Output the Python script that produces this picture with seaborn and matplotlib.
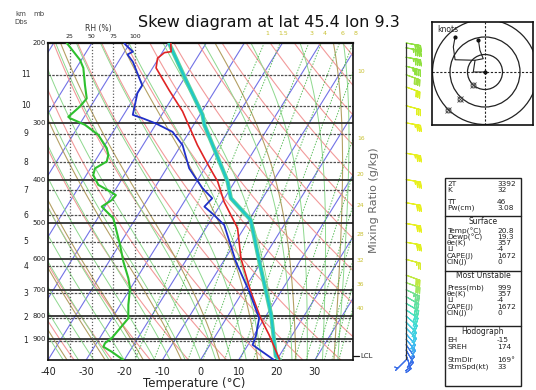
import numpy as np
import pandas as pd
import matplotlib
matplotlib.use("Agg")
import matplotlib.pyplot as plt
import seaborn as sns
from matplotlib.patches import Rectangle, Circle
from matplotlib.lines import Line2D
from matplotlib.transforms import blended_transform_factory
from matplotlib.ticker import NullLocator

sns.set_style("white")
plt.rcParams['font.family'] = ['DejaVu Sans']

# ---------------- data ----------------
temp_p = [1000, 880, 809, 707, 597, 512, 448, 404, 369, 336, 283, 254, 227, 216, 210, 209, 200]
temp_t = [20.8, 13.9, 9.0, 2.1, -5.9, -11.7, -19.5, -24.5, -30.1, -35.7, -45.1, -52.1, -59.1, -60.3, -59.4, -57.8, -59.3]

dew_p = [1000, 926, 888, 809, 707, 607, 504, 479, 459, 440, 418, 378, 336, 314, 301, 293, 288, 258, 248, 220, 212, 209, 202, 200]
dew_t = [19.3, 11.2, 10.7, 8.6, 1.7, -6.7, -15.7, -20.0, -23.9, -23.2, -27.4, -34.1, -39.6, -44.4, -50.1, -54.5, -57.6, -59.9, -59.9, -66.2, -68.8, -67.8, -70.8, -71.5]

parcel_p = [1000, 980, 795, 602, 491, 440, 404, 303, 288, 241, 201]
parcel_t = [20.8, 19.1, 11.2, -0.9, -9.6, -18.3, -21.9, -37.2, -39.3, -49.4, -59.5]

rh_p = [200, 202, 218, 227, 248, 265, 276, 291, 293, 303, 319, 341, 353, 365, 378, 391, 411, 425, 433,
        444, 459, 487, 504, 558, 607, 660, 695, 756, 809, 851, 895, 918, 935, 959, 1000]
rh_v = [21.5, 23.3, 36.8, 40.6, 42.5, 44.5, 36.8, 23.3, 25.3, 42.5, 57.8, 67.5, 69.3, 67.5, 54.0, 52.0, 57.8, 71.3, 78.0,
        73.2, 61.7, 75.0, 77.0, 82.8, 86.6, 92.3, 94.3, 92.3, 92.3, 82.8, 73.2, 65.5, 63.6, 73.2, 86.6]
rh_ticks = [25, 50, 75, 100]

mand_levels = [300, 400, 500, 600, 700, 800, 900]
mand_labels = ["300", "400", "500", "600", "700", "800", "900"]
km_p = [908, 807, 712, 622, 549, 480, 422, 366, 317, 275, 235]
km_labels = ["1", "2", "3", "4", "5", "6", "7", "8", "9", "10", "11"]

x_ticks = [-40, -30, -20, -10, 0, 10, 20, 30]
isotherms = list(range(-120, 50, 10))
dry_thetas = list(range(240, 500, 10))
moist_thetaw = list(range(-40, 44, 4))
olive_thetaw = [-35, -25, -15, -5, 5, 15, 25, 35]
mix_ratios = [1, 1.5, 3, 4, 6, 8, 10, 16, 20, 24, 28, 32, 36, 40]
mix_top_labels = [1, 1.5, 3, 4, 6, 8]
mix_side_labels = [10, 16, 20, 24, 28, 32, 36, 40]
lcl_p = 980

wind_p = [1000, 975, 950, 925, 900, 875, 850, 825, 800, 775, 750, 725, 700, 675, 650, 600, 550, 500,
          450, 400, 350, 300, 275, 250, 235, 225, 215, 205, 200]
wind_dir = [225, 160, 150, 145, 140, 140, 135, 135, 130, 125, 120, 120, 115, 110, 110, 105, 100, 100,
            100, 100, 100, 100, 105, 110, 110, 105, 100, 100, 100]
wind_spd = [5, 25, 20, 15, 15, 20, 20, 25, 25, 30, 30, 30, 35, 30, 30, 25, 30, 30,
            30, 35, 35, 35, 30, 30, 40, 45, 45, 45, 40]
wind_col = ['#3a6ee8', '#3a6ee8', '#3a6ee8', '#3a7ee8', '#40a8f0', '#40b8f0', '#40c8e8', '#40d0e0', '#40d8d8',
            '#48e0c8', '#50e0b0', '#60e0a0', '#70e090', '#a0e860', '#c0e840', '#d8ec30', '#e0f020', '#e8f020',
            '#e8f020', '#e8f020', '#e8f020', '#e8f020', '#e0f020', '#d8f020', '#a0e040', '#90e040', '#90e040',
            '#90e040', '#90e040']

hodo_u1 = [0.0, -0.67, -0.57, -0.10, -0.29, -0.38]
hodo_v1 = [0.0, 0.0, 0.67, 0.76, 1.24, 1.85]
hodo_u2 = [-0.57, -1.71, -1.81, -1.71]
hodo_v2 = [0.67, 0.70, 1.43, 2.00]
storm_u = [-0.67, -1.43, -2.10]
storm_v = [-0.76, -1.52, -2.19]
hodo_rings = [1, 2, 3]

table_rows = [
    ("2T", "3392", 184), ("K", "32", 190), ("TT", "46", 202), ("Pw(cm)", "3.08", 208),
    ("Temp(°C)", "20.8", 231), ("Dewp(°C)", "19.3", 237), ("θe(K)", "357", 243), ("LI", "-4", 249),
    ("CAPE(J)", "1672", 256), ("CIN(J)", "0", 262),
    ("Press(mb)", "999", 288), ("θe(K)", "357", 294), ("LI", "-4", 300), ("CAPE(J)", "1672", 307),
    ("CIN(J)", "0", 313),
    ("EH", "-15", 340), ("SREH", "174", 347), ("StmDir", "169°", 360), ("StmSpd(kt)", "33", 367),
]
table_heads = [("Surface", 221), ("Most Unstable", 276), ("Hodograph", 331)]

# ---------------- helpers ----------------
SKEW = 32.0
W, H = 536.0, 390.0


def sx(t, p):
    return np.asarray(t, float) + SKEW * np.log(1000.0 / np.asarray(p, float))


def rh_x(r):
    return -40.0 + np.asarray(r, float) * 0.2283


def moist_adiabat(t0, pres):
    Rd, cp, L, eps = 287.04, 1005.7, 2.501e6, 0.622

    def f(T, p):
        es = 6.112 * np.exp(17.67 * (T - 273.15) / (T - 29.65))
        rs = eps * es / (p - es)
        return (Rd * T + L * rs) / p / (cp + L * L * rs * eps / (Rd * T * T))

    T = t0 + 273.15
    out = [T]
    for i in range(1, len(pres)):
        p = pres[i - 1]
        dp = pres[i] - p
        k1 = f(T, p)
        k2 = f(T + 0.5 * dp * k1, p + 0.5 * dp)
        T = T + dp * k2
        out.append(T)
    return np.array(out) - 273.15


def mix_td(w, p):
    e = w * p / (622.0 + w)
    a = np.log(e / 6.112)
    return 243.5 * a / (17.67 - a)


def fx(x):
    return x / W


def fy(y):
    return 1.0 - y / H


# ---------------- figure ----------------
fig = plt.figure(figsize=(5.36, 3.90), dpi=100)
ax = fig.add_axes([fx(48), fy(360), 305 / W, 317 / H])
ax.set_yscale('log')
ax.set_ylim(1000, 200)
ax.set_xlim(-40, 40)
ax.yaxis.set_major_locator(NullLocator())
ax.yaxis.set_minor_locator(NullLocator())

pg = np.geomspace(1000, 200, 120)
for t in isotherms:
    ax.plot(sx(t, pg), pg, color='#7272e6', lw=0.8, zorder=1)
for th in dry_thetas:
    ax.plot(sx(th * (pg / 1000.0) ** 0.2857 - 273.15, pg), pg, color='#f29a9a', lw=0.8, zorder=1)
for tw in moist_thetaw:
    ax.plot(sx(moist_adiabat(tw, pg), pg), pg, color='#8ed88e', lw=0.7, zorder=1)
for tw in olive_thetaw:
    ax.plot(sx(moist_adiabat(tw, pg), pg), pg, color='#b4a064', lw=0.8, zorder=1)
for w in mix_ratios:
    ax.plot(sx(mix_td(w, pg), pg), pg, color='#44b444', lw=0.7, ls=(0, (1.5, 1.5)), alpha=0.85, zorder=1)

for p in mand_levels:
    ax.axhline(p, color='#303030', lw=1.3, zorder=2)
for p in km_p:
    ax.axhline(p, color='#505050', lw=0.9, ls=(0, (2, 1)), zorder=2)
for r in rh_ticks:
    ax.axvline(rh_x(r), color='#606060', lw=0.9, ls=(0, (1, 1.5)), zorder=2)

# profiles
df_rh = pd.DataFrame({'x': rh_x(rh_v), 'p': rh_p})
sns.lineplot(data=df_rh, x='x', y='p', sort=False, estimator=None, color='#2ec02e', lw=1.5, ax=ax, zorder=4)
df_par = pd.DataFrame({'x': sx(parcel_t, parcel_p), 'p': parcel_p})
sns.lineplot(data=df_par, x='x', y='p', sort=False, estimator=None, color='#5fd39a', lw=3.0, ax=ax, zorder=4)
sns.lineplot(data=df_par, x='x', y='p', sort=False, estimator=None, color='#1ec8c8', lw=1.6, ax=ax, zorder=4)
df_t = pd.DataFrame({'x': sx(temp_t, temp_p), 'p': temp_p})
sns.lineplot(data=df_t, x='x', y='p', sort=False, estimator=None, color='#e02424', lw=1.2, ax=ax, zorder=5)
df_d = pd.DataFrame({'x': sx(dew_t, dew_p), 'p': dew_p})
sns.lineplot(data=df_d, x='x', y='p', sort=False, estimator=None, color='#2030c8', lw=1.3, ax=ax, zorder=5)

ax.set_xlabel('')
ax.set_ylabel('')
ax.set_xticks(x_ticks)
ax.set_xticklabels([str(v) for v in x_ticks], fontsize=7, color='#222')
ax.tick_params(axis='x', length=2, pad=3)
for s in ax.spines.values():
    s.set_color('#111')
    s.set_linewidth(1.2)
ax.spines['top'].set_linewidth(1.6)

# mixing ratio labels
for w in mix_top_labels:
    ax.text(float(sx(mix_td(w, 200.0), 200.0)) + 0.8, 193, f"{w:g}", fontsize=4.5, color='#c8c030',
            ha='center', va='bottom', clip_on=False)
for w in mix_side_labels:
    xs = sx(mix_td(w, pg), pg)
    if xs.min() < 40 < xs.max():
        pe = float(np.interp(40.0, xs, pg))
        ax.text(41.0, pe, f"{w:g}", fontsize=4.3, color='#c8c030', ha='left', va='center', clip_on=False)

# LCL
ax.plot([40, 41.6], [lcl_p, lcl_p], color='#111', lw=0.9, clip_on=False)
ax.text(42.0, lcl_p, "LCL", fontsize=5, ha='left', va='center', clip_on=False)

# left labels
bt = blended_transform_factory(fig.transFigure, ax.transData)
for p, lab in zip([200] + mand_levels, ["200"] + mand_labels):
    fig.text(fx(46), p, lab, transform=bt, fontsize=5, ha='right', va='center', color='#222')
for p, lab in zip(km_p, km_labels):
    fig.text(fx(26), p, lab, transform=bt, fontsize=5.5, ha='center', va='center', color='#222')
fig.text(fx(21), fy(14), "km", fontsize=5, ha='center', va='center', color='#444')
fig.text(fx(21), fy(22), "Dbs", fontsize=5, ha='center', va='center', color='#444')
fig.text(fx(39), fy(14), "mb", fontsize=5, ha='center', va='center', color='#444')

# RH labels
bx = blended_transform_factory(ax.transData, fig.transFigure)
for r in rh_ticks:
    fig.text(float(rh_x(r)), fy(37), str(r), transform=bx, fontsize=4.5, ha='center', va='center', color='#222')
fig.text(fx(98), fy(28), "RH (%)", fontsize=5.5, ha='center', va='center', color='#333')

# titles
fig.text(fx(269), fy(22), "Skew diagram at lat 45.4 lon 9.3", fontsize=11.5, ha='center', va='center',
         color='#111')
fig.text(fx(194), fy(383), "Temperature (°C)", fontsize=8.5, ha='center', va='center', color='#222')
fig.text(fx(374), fy(200), "Mixing Ratio (g/kg)", fontsize=8, rotation=90, ha='center', va='center',
         color='#666')

# ---------------- wind barbs ----------------
axb = fig.add_axes([fx(385), fy(360), 50 / W, 317 / H])
axb.set_yscale('log')
axb.set_ylim(1000, 200)
axb.set_xlim(385, 435)
axb.axis('off')
axb.plot([406, 406], [1000, 200], color='#333', lw=0.9)
wd = np.deg2rad(np.array(wind_dir, float))
ws = np.array(wind_spd, float)
uu = -ws * np.sin(wd)
vv = -ws * np.cos(wd)
axb.barbs(np.full(len(wind_p), 406.0), np.array(wind_p, float), uu, vv, color=wind_col, length=4.6,
          linewidth=0.8, clip_on=False, sizes=dict(emptybarb=0.0))

# ---------------- hodograph ----------------
sc = 17.5
axh = fig.add_axes([fx(432), fy(125), 101 / W, 103 / H])
axh.set_xlim(-53 / sc, 48 / sc)
axh.set_ylim(-53 / sc, 50 / sc)
axh.set_xticks([])
axh.set_yticks([])
for s in axh.spines.values():
    s.set_color('#111')
    s.set_linewidth(1.2)
for r in hodo_rings:
    axh.add_patch(Circle((0, 0), r, fill=False, color='#222', lw=0.9))
axh.axhline(0, color='#222', lw=0.8, ls=(0, (2, 1.5)))
axh.axvline(0, color='#222', lw=0.8, ls=(0, (2, 1.5)))
axh.plot(hodo_u1, hodo_v1, color='#222', lw=0.8)
axh.plot(hodo_u2, hodo_v2, color='#222', lw=0.8)
axh.plot([hodo_u1[-1], hodo_u2[-1], 0], [hodo_v1[-1], hodo_v2[-1], 0], 'o', color='#111', ms=2)
axh.plot(storm_u, storm_v, ls='none', marker='o', mfc='none', mec='#444', mew=0.7, ms=3.5)
axh.plot(storm_u, storm_v, ls='none', marker='x', color='#444', mew=0.6, ms=4.5)
axh.text(0.05, 0.93, "knots", transform=axh.transAxes, fontsize=5.5, ha='left', va='center')

# ---------------- table ----------------
tx0, tx1, ty0, ty1 = 445, 521, 178, 386
fig.add_artist(Rectangle((fx(tx0), fy(ty1)), (tx1 - tx0) / W, (ty1 - ty0) / H, transform=fig.transFigure,
                         fill=False, lw=1.0, color='#222'))
for yd in [216, 271, 326]:
    fig.add_artist(Line2D([fx(tx0), fx(tx1)], [fy(yd), fy(yd)], transform=fig.transFigure, lw=1.0,
                          color='#222'))
for lab, val, yy in table_rows:
    fig.text(fx(447), fy(yy), lab, fontsize=5.3, ha='left', va='center', color='#222')
    fig.text(fx(497), fy(yy), val, fontsize=5.3, ha='left', va='center', color='#222')
for lab, yy in table_heads:
    fig.text(fx((tx0 + tx1) / 2), fy(yy), lab, fontsize=5.5, ha='center', va='center', color='#222')

fig.savefig("out.png", dpi=100)
